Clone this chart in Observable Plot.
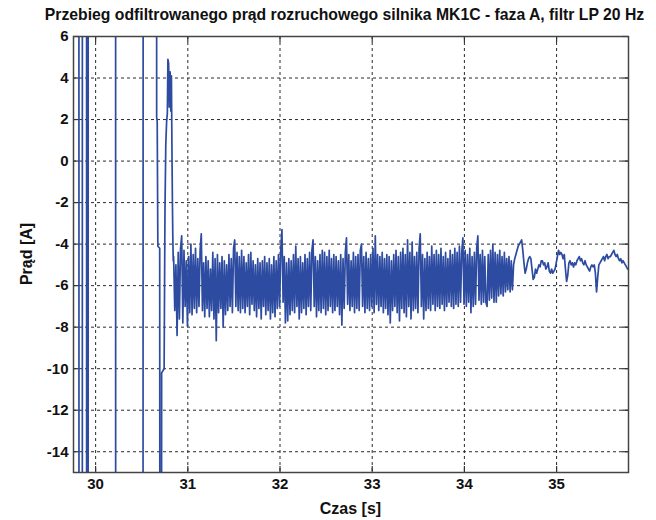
<!DOCTYPE html>
<html><head><meta charset="utf-8">
<script src="https://cdn.jsdelivr.net/npm/d3@7"></script>
<script src="https://cdn.jsdelivr.net/npm/@observablehq/plot@0.6"></script>
<style>
body{margin:0;background:#fff;}
#chart{width:656px;height:520px;position:relative;}
</style></head><body><div id="chart"></div>
<script>
const title = "Przebieg odfiltrowanego prąd rozruchowego silnika MK1C - faza A, filtr LP 20 Hz";
const xLabel = "Czas [s]";
const yLabel = "Prąd [A]";
const xTicks = [30, 31, 32, 33, 34, 35];
const yTicks = [-14, -12, -10, -8, -6, -4, -2, 0, 2, 4, 6];
const xDomain = [29.76, 35.78];
const yDomain = [-15, 6];

// start-up transient (large oscillations clipped by the axes)
const startTime = [29.70, 29.818, 29.820, 29.855, 29.857, 29.901, 29.903, 29.918, 29.920, 30.216, 30.218, 30.513, 30.517,
  30.659, 30.662, 30.668, 30.675, 30.695, 30.702, 30.710, 30.716, 30.743, 30.752, 30.761, 30.770, 30.778, 30.784,
  30.792, 30.799, 30.808, 30.816, 30.822, 30.828, 30.833, 30.837, 30.842];
const startCurrent = [60, 60, -60, -60, 60, 60, -60, -60, 60, 60, -60, -60, 60,
  60, 2.1, 1.9, -4.1, -4.2, -60, -60, -10.2, -10.0, -2.5, 0.8, 1.9, 2.3, 4.9,
  4.7, 2.6, 4.3, 2.4, 4.1, 0.5, -2.0, -3.6, -4.8];

// steady running part, sampled every 0.0125 s from 30.846 s
const runStart = 30.846;
const runStep = 0.0125;
const runCurrent = [
  -4.6,-7.2,-5.0,-8.4,-4.4,-7.6,-4.2,-3.6,-7.8,-4.3,
  -7.0,-4.8,-7.95,-4.6,-7.3,-4.0,-7.4,-4.5,-7.1,-4.2,
  -7.3,-4.7,-7.0,-4.3,-3.5,-7.2,-4.9,-7.5,-4.6,-7.1,
  -4.8,-7.5,-5.2,-7.2,-4.4,-7.6,-4.7,-8.65,-4.5,-7.3,
  -4.9,-7.1,-4.6,-8.0,-4.8,-7.4,-5.0,-7.2,-4.5,-7.0,
  -4.7,-7.3,-4.2,-3.8,-7.0,-4.4,-7.2,-4.6,-7.3,-4.3,
  -7.1,-4.6,-7.3,-4.9,-7.0,-4.5,-7.4,-4.4,-6.9,-4.8,
  -7.2,-5.0,-7.5,-4.7,-7.1,-4.9,-7.6,-4.8,-7.0,-4.6,
  -7.4,-4.9,-7.2,-4.7,-7.6,-5.0,-7.3,-4.6,-7.5,-4.8,
  -7.1,-4.5,-7.0,-4.2,-3.3,-6.8,-4.6,-7.8,-4.9,-7.7,
  -4.7,-7.4,-4.8,-7.2,-4.5,-7.3,-4.1,-7.0,-4.7,-7.6,
  -4.6,-7.3,-4.9,-7.1,-4.5,-7.4,-4.7,-7.0,-4.4,-7.2,
  -4.3,-3.8,-7.0,-4.6,-7.5,-4.8,-7.2,-4.5,-7.3,-4.3,
  -7.1,-4.4,-7.4,-4.6,-7.2,-4.3,-7.0,-4.7,-7.3,-4.5,
  -7.2,-4.6,-7.0,-4.8,-7.4,-4.5,-7.9,-4.7,-7.1,-4.4,
  -3.7,-6.9,-4.5,-7.2,-4.8,-7.0,-4.4,-7.3,-4.6,-7.1,
  -4.5,-7.2,-4.3,-4.0,-7.0,-4.6,-7.3,-4.4,-7.1,-4.7,
  -7.2,-4.5,-7.0,-4.2,-7.3,-3.6,-6.9,-4.5,-7.2,-4.6,
  -7.0,-4.4,-7.3,-4.7,-7.1,-4.5,-7.4,-4.6,-7.8,-4.8,
  -7.2,-4.5,-7.0,-4.3,-7.3,-4.6,-7.7,-4.4,-7.1,-4.2,
  -7.3,-4.5,-7.5,-3.8,-7.0,-4.4,-7.6,-3.9,-7.2,-4.6,
  -7.1,-4.4,-7.3,-4.2,-3.5,-7.0,-4.5,-7.6,-4.7,-7.2,
  -4.4,-7.1,-4.6,-7.2,-4.1,-6.9,-4.5,-7.2,-4.3,-7.0,
  -4.5,-7.1,-4.2,-6.9,-4.6,-7.2,-4.4,-7.0,-4.7,-6.8,
  -4.3,-7.0,-4.5,-7.1,-4.2,-6.9,-4.4,-7.0,-4.1,-6.8,
  -4.4,-3.7,-6.9,-4.3,-7.0,-4.5,-6.8,-4.2,-7.3,-4.6,
  -7.0,-4.4,-6.9,-4.2,-3.6,-6.7,-4.5,-6.9,-4.3,-6.8,
  -4.6,-6.8,-7.0,-4.5,-6.7,-4.3,-6.6,-4.0,-6.8,-4.4,
  -6.8,-4.5,-6.5,-4.3,-6.4,-4.6,-6.5,-4.4,-6.3,-4.7,
  -6.2,-4.6,-6.3,-4.8,-6.2,-5.0,-4.7,-4.5,-4.3,-4.1,
  -4.0,-3.9,-3.8,-4.3,-4.9,-5.4,-5.2,-4.9,-4.7,-4.6,
  -4.7,-5.2,-5.7,-5.6,-5.2,-5.4,-5.2,-5.0,-5.1,-4.8,
  -4.8,-5.0,-4.9,-5.2,-5.1,-4.9,-5.3,-5.4,-5.2,-5.4,
  -5.3,-5.2,-4.9,-4.6,-4.3,-4.5,-4.4,-4.5,-4.7,-4.5,
  -5.2,-5.8,-5.5,-4.9,-4.8,-5.0,-4.9,-5.1,-4.9,-5.0,
  -4.8,-4.7,-4.6,-4.8,-4.7,-4.9,-5.0,-4.8,-5.0,-5.1,
  -5.2,-5.3,-5.1,-5.0,-5.1,-5.0,-5.4,-6.3,-5.6,-5.0,
  -4.9,-4.8,-4.7,-4.6,-4.8,-4.6,-4.5,-4.7,-4.6,-4.6,
  -4.5,-4.4,-4.3,-4.5,-4.6,-4.5,-4.7,-4.8,-4.7,-4.9,
  -4.8,-4.9,-5.0,-5.1,-5.2,-5.2
];

const data = startTime.map((t, i) => ({t, v: startCurrent[i]}))
  .concat(runCurrent.map((v, i) => ({t: runStart + i * runStep, v})));

const W = 656, H = 520;
const mL = 73, mR = 28, mT = 36, mB = 48;
const pw = W - mL - mR, ph = H - mT - mB;
const gridStyle = {stroke: "#2a2a2a", strokeOpacity: 1, strokeWidth: 1, strokeDasharray: "3,3"};
const tickStyle = {stroke: "#333", strokeWidth: 1.2};
const blue = "#2d4ba0";

const chart = Plot.plot({
  width: W, height: H,
  marginLeft: mL, marginRight: mR, marginTop: mT, marginBottom: mB,
  style: {fontFamily: "'Liberation Sans', Arial, sans-serif", fontSize: "15px", fontWeight: "bold", background: "#fff", color: "#111"},
  x: {domain: xDomain, ticks: xTicks, tickSize: 0, tickPadding: 6, label: null, tickFormat: d => String(d)},
  y: {domain: yDomain, ticks: yTicks, tickSize: 0, tickPadding: 5, label: null, tickFormat: d => String(d)},
  marks: [
    Plot.ruleX(xTicks, {x: d => d, ...gridStyle}),
    Plot.ruleY(yTicks, {y: d => d, ...gridStyle}),
    Plot.tickX(xTicks, {x: d => d, insetTop: ph - 6, ...tickStyle}),
    Plot.tickX(xTicks, {x: d => d, insetBottom: ph - 6, ...tickStyle}),
    Plot.tickY(yTicks, {y: d => d, insetRight: pw - 6, ...tickStyle}),
    Plot.tickY(yTicks, {y: d => d, insetLeft: pw - 6, ...tickStyle}),
    Plot.line(data, {x: "t", y: "v", stroke: blue, strokeWidth: 1.7, clip: true}),
    Plot.frame({stroke: "#444", strokeWidth: 1.5})
  ]
});

document.getElementById("chart").appendChild(chart);

const svg = d3.select(chart);
const titleText = svg.append("text")
  .attr("x", mL + pw / 2 - 6).attr("y", 20)
  .attr("text-anchor", "middle")
  .style("font-family", "'Liberation Sans Narrow', 'Liberation Sans', Arial, sans-serif")
  .style("font-size", "16px").style("font-weight", "bold").style("fill", "#111")
  .text(title);
// shrink the font if the title is wider than the space the reference uses
const natural = titleText.node().getComputedTextLength();
if (natural > 600) titleText.style("font-size", (16 * 600 / natural).toFixed(2) + "px");

svg.append("text")
  .attr("x", mL + pw / 2).attr("y", 514)
  .attr("text-anchor", "middle")
  .style("font-size", "16px").style("font-weight", "bold").style("fill", "#111")
  .text(xLabel);
svg.append("text")
  .attr("transform", `translate(26,${mT + ph / 2}) rotate(-90)`)
  .attr("text-anchor", "middle").attr("dy", "0.35em")
  .style("font-size", "16px").style("font-weight", "bold").style("fill", "#111")
  .text(yLabel);
</script>
</body></html>
